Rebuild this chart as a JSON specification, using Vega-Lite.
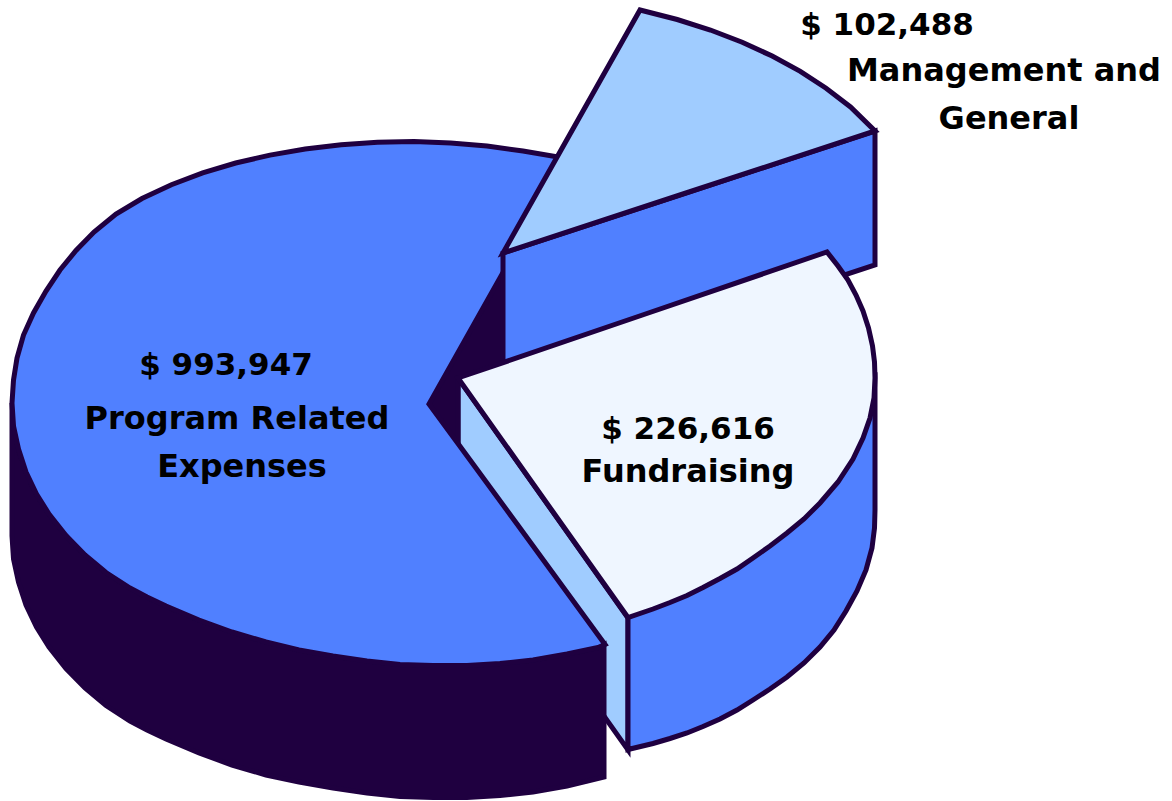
{"$schema":"https://vega.github.io/schema/vega-lite/v6.json","width":1172,"height":801,"autosize":"none","padding":0,"background":"white","view":{"stroke":null},
"layer":[
{"data":{"values":[
{"part":"a_strip","x":628,"y":684},{"part":"a_strip","x":628,"y":750},{"part":"a_strip","x":458,"y":510},{"part":"a_strip","x":458,"y":378},{"part":"a_strip","x":628,"y":618},{"part":"a_strip","x":628,"y":684},
{"part":"b_inner","x":503,"y":320},{"part":"b_inner","x":503,"y":370},{"part":"b_inner","x":458,"y":378},{"part":"b_inner","x":458,"y":445},{"part":"b_inner","x":429,"y":404},{"part":"b_inner","x":503,"y":272},{"part":"b_inner","x":503,"y":320},
{"part":"c_mainwall","x":12,"y":470},{"part":"c_mainwall","x":12,"y":403},{"part":"c_mainwall","x":13.5,"y":426},{"part":"c_mainwall","x":18.5,"y":449},{"part":"c_mainwall","x":26,"y":472},{"part":"c_mainwall","x":36.5,"y":494},{"part":"c_mainwall","x":49,"y":514},{"part":"c_mainwall","x":66,"y":535.5},{"part":"c_mainwall","x":85,"y":555},{"part":"c_mainwall","x":106,"y":572.5},{"part":"c_mainwall","x":130,"y":588},{"part":"c_mainwall","x":147,"y":597},{"part":"c_mainwall","x":166,"y":606},{"part":"c_mainwall","x":199,"y":620},{"part":"c_mainwall","x":232,"y":632},{"part":"c_mainwall","x":266,"y":642},{"part":"c_mainwall","x":299,"y":650},{"part":"c_mainwall","x":333,"y":656},{"part":"c_mainwall","x":367,"y":661},{"part":"c_mainwall","x":400,"y":664.5},{"part":"c_mainwall","x":433,"y":665.5},{"part":"c_mainwall","x":467,"y":665.5},{"part":"c_mainwall","x":500,"y":663.5},{"part":"c_mainwall","x":533,"y":660},{"part":"c_mainwall","x":567,"y":654},{"part":"c_mainwall","x":598,"y":647.5},{"part":"c_mainwall","x":604,"y":644.5},
{"part":"c_mainwall","x":604,"y":777},{"part":"c_mainwall","x":567,"y":786},{"part":"c_mainwall","x":533,"y":792},{"part":"c_mainwall","x":500,"y":795.5},{"part":"c_mainwall","x":467,"y":797.5},{"part":"c_mainwall","x":433,"y":797.5},{"part":"c_mainwall","x":400,"y":796.5},{"part":"c_mainwall","x":367,"y":793},{"part":"c_mainwall","x":333,"y":788},{"part":"c_mainwall","x":299,"y":782},{"part":"c_mainwall","x":266,"y":775},{"part":"c_mainwall","x":232,"y":765},{"part":"c_mainwall","x":199,"y":753},{"part":"c_mainwall","x":166,"y":739},{"part":"c_mainwall","x":147,"y":730},{"part":"c_mainwall","x":130,"y":721},{"part":"c_mainwall","x":106,"y":705.5},{"part":"c_mainwall","x":85,"y":688},{"part":"c_mainwall","x":66,"y":668.5},{"part":"c_mainwall","x":49,"y":647},{"part":"c_mainwall","x":36.5,"y":627},{"part":"c_mainwall","x":26,"y":605},{"part":"c_mainwall","x":18.5,"y":582},{"part":"c_mainwall","x":13.5,"y":559},{"part":"c_mainwall","x":12,"y":536},{"part":"c_mainwall","x":12,"y":470},
{"part":"d_main","x":517,"y":524},{"part":"d_main","x":429,"y":404},{"part":"d_main","x":568,"y":157},{"part":"d_main","x":558,"y":157},{"part":"d_main","x":523,"y":151},{"part":"d_main","x":487,"y":146},{"part":"d_main","x":450.7,"y":143},{"part":"d_main","x":414,"y":141.5},{"part":"d_main","x":377.5,"y":142.3},{"part":"d_main","x":341.2,"y":144.8},{"part":"d_main","x":305.2,"y":149},{"part":"d_main","x":270,"y":155.1},{"part":"d_main","x":235.7,"y":163},{"part":"d_main","x":202.7,"y":172.9},{"part":"d_main","x":171.4,"y":184.7},{"part":"d_main","x":142,"y":198.5},{"part":"d_main","x":116,"y":214},{"part":"d_main","x":94,"y":232},{"part":"d_main","x":76,"y":250.5},{"part":"d_main","x":60,"y":270},{"part":"d_main","x":46,"y":291},{"part":"d_main","x":33.5,"y":313},{"part":"d_main","x":23.5,"y":335},{"part":"d_main","x":17,"y":358},{"part":"d_main","x":13.5,"y":380},{"part":"d_main","x":12,"y":403},{"part":"d_main","x":13.5,"y":426},{"part":"d_main","x":18.5,"y":449},{"part":"d_main","x":26,"y":472},{"part":"d_main","x":36.5,"y":494},{"part":"d_main","x":49,"y":514},{"part":"d_main","x":66,"y":535.5},{"part":"d_main","x":85,"y":555},{"part":"d_main","x":106,"y":572.5},{"part":"d_main","x":130,"y":588},{"part":"d_main","x":147,"y":597},{"part":"d_main","x":166,"y":606},{"part":"d_main","x":199,"y":620},{"part":"d_main","x":232,"y":632},{"part":"d_main","x":266,"y":642},{"part":"d_main","x":299,"y":650},{"part":"d_main","x":333,"y":656},{"part":"d_main","x":367,"y":661},{"part":"d_main","x":400,"y":664.5},{"part":"d_main","x":433,"y":665.5},{"part":"d_main","x":467,"y":665.5},{"part":"d_main","x":500,"y":663.5},{"part":"d_main","x":533,"y":660},{"part":"d_main","x":567,"y":654},{"part":"d_main","x":598,"y":647.5},{"part":"d_main","x":605,"y":644.5},{"part":"d_main","x":517,"y":524},
{"part":"e_mgmtwall","x":875,"y":198},{"part":"e_mgmtwall","x":875,"y":265},{"part":"e_mgmtwall","x":503,"y":387},{"part":"e_mgmtwall","x":503,"y":253},{"part":"e_mgmtwall","x":875,"y":131},{"part":"e_mgmtwall","x":875,"y":198},
{"part":"f_mgmttop","x":689,"y":192},{"part":"f_mgmttop","x":503,"y":253},{"part":"f_mgmttop","x":640,"y":10},{"part":"f_mgmttop","x":677.2,"y":19.5},{"part":"f_mgmttop","x":710.4,"y":30},{"part":"f_mgmttop","x":742.2,"y":42.2},{"part":"f_mgmttop","x":772.2,"y":56.1},{"part":"f_mgmttop","x":800.3,"y":71.4},{"part":"f_mgmttop","x":826.1,"y":88.2},{"part":"f_mgmttop","x":850.5,"y":107},{"part":"f_mgmttop","x":875,"y":131},{"part":"f_mgmttop","x":689,"y":192},
{"part":"g_fundwall","x":875,"y":450},{"part":"g_fundwall","x":875,"y":510},{"part":"g_fundwall","x":874.5,"y":528},{"part":"g_fundwall","x":872,"y":548},{"part":"g_fundwall","x":866,"y":570},{"part":"g_fundwall","x":857,"y":591},{"part":"g_fundwall","x":846,"y":611},{"part":"g_fundwall","x":834,"y":630},{"part":"g_fundwall","x":820,"y":647},{"part":"g_fundwall","x":804,"y":663},{"part":"g_fundwall","x":787,"y":677},{"part":"g_fundwall","x":770,"y":689},{"part":"g_fundwall","x":753,"y":700},{"part":"g_fundwall","x":737,"y":710},{"part":"g_fundwall","x":720,"y":719},{"part":"g_fundwall","x":703,"y":726.5},{"part":"g_fundwall","x":687,"y":733},{"part":"g_fundwall","x":670,"y":738.5},{"part":"g_fundwall","x":653,"y":743.5},{"part":"g_fundwall","x":628,"y":749.5},{"part":"g_fundwall","x":628,"y":618},{"part":"g_fundwall","x":875,"y":378},{"part":"g_fundwall","x":875,"y":450},
{"part":"h_fundtop","x":642.5,"y":315},{"part":"h_fundtop","x":827,"y":252},{"part":"h_fundtop","x":838,"y":266},{"part":"h_fundtop","x":848,"y":280},{"part":"h_fundtop","x":856,"y":295},{"part":"h_fundtop","x":863,"y":311},{"part":"h_fundtop","x":868.5,"y":328},{"part":"h_fundtop","x":872.5,"y":346},{"part":"h_fundtop","x":874.5,"y":362},{"part":"h_fundtop","x":875,"y":378},{"part":"h_fundtop","x":874,"y":398},{"part":"h_fundtop","x":870,"y":418},{"part":"h_fundtop","x":863,"y":438},{"part":"h_fundtop","x":853,"y":459},{"part":"h_fundtop","x":838,"y":482},{"part":"h_fundtop","x":820,"y":503},{"part":"h_fundtop","x":804,"y":519},{"part":"h_fundtop","x":787,"y":533},{"part":"h_fundtop","x":770,"y":546},{"part":"h_fundtop","x":753,"y":558},{"part":"h_fundtop","x":737,"y":569},{"part":"h_fundtop","x":720,"y":578.5},{"part":"h_fundtop","x":703,"y":587.5},{"part":"h_fundtop","x":687,"y":595.5},{"part":"h_fundtop","x":670,"y":602.5},{"part":"h_fundtop","x":653,"y":609},{"part":"h_fundtop","x":628,"y":617.5},{"part":"h_fundtop","x":458,"y":378},{"part":"h_fundtop","x":642.5,"y":315}
]},
"transform":[{"window":[{"op":"row_number","as":"seq"}]}],
"mark":{"type":"line","stroke":"#1f0040","strokeWidth":5,"strokeJoin":"miter","strokeCap":"butt","strokeMiterLimit":10},
"encoding":{
"x":{"field":"x","type":"quantitative","scale":{"domain":[0,1172],"nice":false,"zero":false},"axis":null},
"y":{"field":"y","type":"quantitative","scale":{"domain":[801,0],"nice":false,"zero":false},"axis":null},
"order":{"field":"seq","type":"quantitative"},
"detail":{"field":"part"},
"fill":{"field":"part","type":"nominal","legend":null,"scale":{"domain":["a_strip","b_inner","c_mainwall","d_main","e_mgmtwall","f_mgmttop","g_fundwall","h_fundtop"],"range":["#a0ccff","#1f0040","#1f0040","#5080ff","#5080ff","#a0ccff","#5080ff","#eff6ff"]}}
}},
{"data":{"values":[
{"label":"Management and","x":1004,"y":71},{"label":"General","x":1009,"y":119},
{"label":"Fundraising","x":688,"y":472},
{"label":"Program Related","x":237,"y":419},{"label":"Expenses","x":242,"y":467}
]},
"mark":{"type":"text","font":"DejaVu Sans","fontWeight":700,"fontSize":32,"color":"#000000","align":"center","baseline":"middle"},
"encoding":{
"x":{"field":"x","type":"quantitative","scale":{"domain":[0,1172],"nice":false,"zero":false},"axis":null},
"y":{"field":"y","type":"quantitative","scale":{"domain":[801,0],"nice":false,"zero":false},"axis":null},
"text":{"field":"label"}
}},
{"data":{"values":[
{"label":"$ 102,488","x":887,"y":26},{"label":"$ 226,616","x":688,"y":430},{"label":"$ 993,947","x":226,"y":366}
]},
"mark":{"type":"text","font":"DejaVu Sans","fontWeight":700,"fontSize":31,"color":"#000000","align":"center","baseline":"middle"},
"encoding":{
"x":{"field":"x","type":"quantitative","scale":{"domain":[0,1172],"nice":false,"zero":false},"axis":null},
"y":{"field":"y","type":"quantitative","scale":{"domain":[801,0],"nice":false,"zero":false},"axis":null},
"text":{"field":"label"}
}}
]}
